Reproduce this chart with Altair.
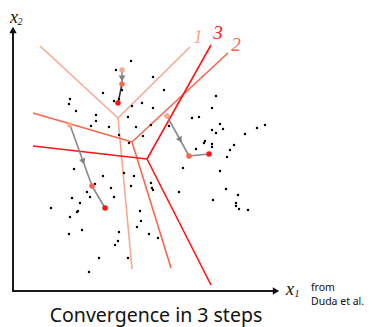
import math
import altair as alt
import pandas as pd

# ---- data (x1 horizontal, x2 vertical; origin where the axes cross) ----
dot_x = [118, 103, 140, 151, 109, 90, 57, 56, 63, 101, 106, 119, 129, 140, 83, 83, 78, 96, 115, 123, 138, 130, 106, 116,
         203, 199, 179, 186, 207, 210, 199, 203, 232, 244, 252, 156, 192, 191, 199, 199, 221, 217, 183, 214, 170, 207,
         166, 213, 225, 200, 223, 223, 226, 235,
         61, 90, 111, 121, 82, 98, 118, 138, 139, 140, 74, 77, 101, 59, 67, 38, 65, 64, 57, 127, 128, 124, 69, 56,
         106, 136, 145, 105, 102, 86, 115, 76]
dot_y = [230, 221, 214, 201, 201, 198, 192, 187, 180, 190, 192, 185, 188, 183, 176, 170, 165, 164, 174, 164, 166, 155, 156, 148,
         195, 183, 173, 174, 167, 162, 161, 158, 157, 163, 166, 165, 150, 148, 147, 144, 146, 141, 142, 134, 123, 120,
         99, 102, 96, 91, 88, 85, 82, 81,
         122, 115, 118, 115, 107, 103, 105, 108, 103, 101, 99, 94, 94, 93, 88, 83, 80, 79, 74, 80, 70, 64, 61, 57,
         59, 57, 53, 50, 46, 33, 33, 19]

# decision boundaries after iterations 1, 2, 3: a vertex and three ends
bound_step = ["1", "2", "3"]
vertex_x = [105, 119, 134]
vertex_y = [173, 149, 132]
left_x = [27, 20, 20]
left_y = [245, 178, 145]
up_x = [177, 215, 198]
up_y = [244, 238, 246]
down_x = [119, 158, 198]
down_y = [22, 23, 6]
label_x = [185, 223, 205]
label_y = [254, 246, 258]

# cluster-centre trajectories, steps 1..3
traj_x = {"A": [109, 109, 105], "B": [57, 79, 92], "C": [154, 176, 196]}
traj_y = {"A": [221, 207, 188], "B": [166, 105, 83], "C": [175, 135, 137]}

# ---- styles ----
step_colors = ["#f9a890", "#f8664c", "#ff1414"]
last_seg_colors = {"A": "#333333", "B": "#8a8a8a", "C": "#8a8a8a"}

XS = alt.Scale(domain=[-5, 352])
YS = alt.Scale(domain=[-28, 283])


def X(f="x"):
    return alt.X(f, type="quantitative", scale=XS, axis=None)


def Y(f="y"):
    return alt.Y(f, type="quantitative", scale=YS, axis=None)


# boundaries
seg_rows = []
for i, s in enumerate(bound_step):
    for ex, ey in ((left_x[i], left_y[i]), (up_x[i], up_y[i]), (down_x[i], down_y[i])):
        seg_rows.append(dict(x=vertex_x[i], y=vertex_y[i], x2=ex, y2=ey, c=step_colors[i]))
bounds = alt.Chart(pd.DataFrame(seg_rows)).mark_rule(strokeWidth=1.6).encode(
    x=X(), y=Y(), x2="x2:Q", y2="y2:Q", color=alt.Color("c:N", scale=None))

blabels = alt.Chart(pd.DataFrame(dict(x=label_x, y=label_y, t=bound_step, c=step_colors))).mark_text(
    font="Liberation Serif", fontStyle="italic", fontSize=19, align="center", baseline="middle").encode(
    x=X(), y=Y(), text="t:N", color=alt.Color("c:N", scale=None))

# axes
axes_df = pd.DataFrame(dict(x=[0, -1], y=[-1, 0], x2=[0, 263], y2=[260, 0]))
axes = alt.Chart(axes_df).mark_rule(color="#1a1a1a", strokeWidth=2).encode(
    x=X(), y=Y(), x2="x2:Q", y2="y2:Q")
arrow_df = pd.DataFrame(dict(x=[0, 263], y=[261, 0], a=[0, 90]))
axis_arrows = alt.Chart(arrow_df).mark_point(shape="triangle-up", filled=True, size=55,
                                             color="#111111", opacity=1).encode(
    x=X(), y=Y(), angle=alt.Angle("a:Q", scale=None))

# trajectories
traj_rows, head_rows, cen_rows = [], [], []
for k in traj_x:
    xs, ys = traj_x[k], traj_y[k]
    traj_rows.append(dict(x=xs[0], y=ys[0], x2=xs[1], y2=ys[1], c="#8a8a8a"))
    traj_rows.append(dict(x=xs[1], y=ys[1], x2=xs[2], y2=ys[2], c=last_seg_colors[k]))
    dx, dy = xs[1] - xs[0], ys[1] - ys[0]
    ang = math.degrees(math.atan2(dx, dy)) % 360
    head_rows.append(dict(x=xs[0] + 0.6 * dx, y=ys[0] + 0.6 * dy, a=ang))
    for j in range(3):
        cen_rows.append(dict(x=xs[j], y=ys[j], c=step_colors[j]))

traj = alt.Chart(pd.DataFrame(traj_rows)).mark_rule(strokeWidth=1.6).encode(
    x=X(), y=Y(), x2="x2:Q", y2="y2:Q", color=alt.Color("c:N", scale=None))
heads = alt.Chart(pd.DataFrame(head_rows)).mark_point(shape="triangle-up", filled=True, size=45,
                                                      color="#808080", opacity=1).encode(
    x=X(), y=Y(), angle=alt.Angle("a:Q", scale=None))

dots = alt.Chart(pd.DataFrame(dict(x=dot_x, y=dot_y))).mark_circle(size=6, color="black", opacity=1).encode(
    x=X(), y=Y())
centers = alt.Chart(pd.DataFrame(cen_rows)).mark_circle(size=30, opacity=1).encode(
    x=X(), y=Y(), color=alt.Color("c:N", scale=None))


def txt(t, x, y, **kw):
    return alt.Chart(pd.DataFrame(dict(x=[x], y=[y], t=[t]))).mark_text(**kw).encode(
        x=X(), y=Y(), text="t:N")


texts = [
    txt("x", 1, 273, font="Liberation Serif", fontStyle="italic", fontSize=18, align="center", baseline="middle", color="#111"),
    txt("2", 7, 269, font="Liberation Serif", fontStyle="italic", fontSize=10, align="center", baseline="middle", color="#111"),
    txt("x", 277, 1, font="Liberation Serif", fontStyle="italic", fontSize=18, align="center", baseline="middle", color="#111"),
    txt("1", 284, -3, font="Liberation Serif", fontStyle="italic", fontSize=10, align="center", baseline="middle", color="#111"),
    txt("from", 298, 3, font="Noto Sans", fontSize=10.5, align="left", baseline="middle", color="#111"),
    txt("Duda et al.", 298, -11, font="Noto Sans", fontSize=10.5, align="left", baseline="middle", color="#111"),
    txt("Convergence in 3 steps", 143, -31, font="Noto Sans", fontSize=19.5, align="center",
        baseline="alphabetic", color="#111"),
]

chart = alt.layer(bounds, blabels, axes, axis_arrows, traj, heads, dots, centers, *texts).properties(
    width=357, height=311, padding={"left": 0, "top": 0, "right": 0, "bottom": 8},
    autosize=alt.AutoSizeParams(type="none")
).configure_view(stroke=None)

chart.save("out.html", embed_options={"renderer": "svg", "actions": False})
